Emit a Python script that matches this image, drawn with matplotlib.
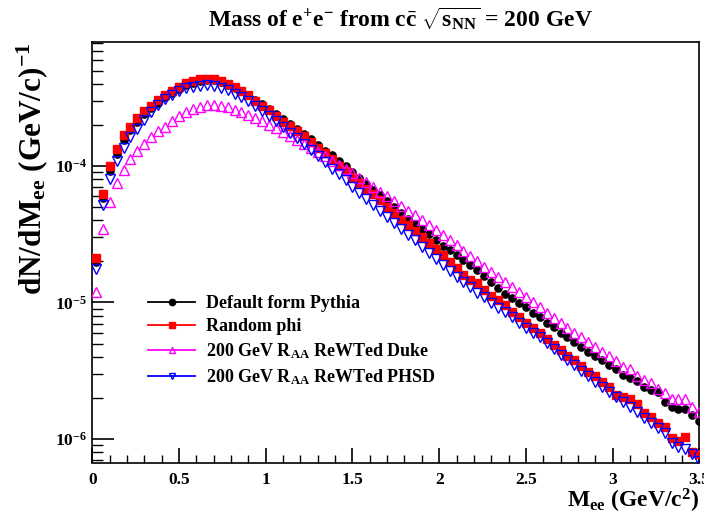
import math
import matplotlib
matplotlib.use('Agg')
import matplotlib.pyplot as plt
from matplotlib.ticker import MultipleLocator, FuncFormatter, LogLocator, NullFormatter
from matplotlib.lines import Line2D

plt.rcParams['font.family'] = ['Liberation Serif', 'DejaVu Serif']
plt.rcParams['font.weight'] = 'bold'
plt.rcParams['mathtext.fontset'] = 'custom'
plt.rcParams['mathtext.rm'] = 'Liberation Serif:bold'
plt.rcParams['mathtext.it'] = 'Liberation Serif:bold'
plt.rcParams['mathtext.bf'] = 'Liberation Serif:bold'
plt.rcParams['mathtext.sf'] = 'Liberation Serif:bold'

# bin centres (GeV/c^2)
mass = [0.02, 0.06, 0.10, 0.14, 0.18, 0.22, 0.26, 0.30, 0.34, 0.38,
        0.42, 0.46, 0.50, 0.54, 0.58, 0.62, 0.66, 0.70, 0.74, 0.78,
        0.82, 0.86, 0.90, 0.94, 0.98, 1.02, 1.06, 1.10, 1.14, 1.18,
        1.22, 1.26, 1.30, 1.34, 1.38, 1.42, 1.46, 1.50, 1.54, 1.58,
        1.62, 1.66, 1.70, 1.74, 1.78, 1.82, 1.86, 1.90, 1.94, 1.98,
        2.02, 2.06, 2.10, 2.14, 2.18, 2.22, 2.26, 2.30, 2.34, 2.38,
        2.42, 2.46, 2.50, 2.54, 2.58, 2.62, 2.66, 2.70, 2.74, 2.78,
        2.82, 2.86, 2.90, 2.94, 2.98, 3.02, 3.06, 3.10, 3.14, 3.18,
        3.22, 3.26, 3.30, 3.34, 3.38, 3.42, 3.46, 3.50]

default_pythia = [
    1.97e-5, 5.8e-5, 9.2e-5, 1.22e-4, 1.55e-4, 1.83e-4, 2.12e-4, 2.40e-4, 2.66e-4, 2.93e-4,
    3.20e-4, 3.45e-4, 3.70e-4, 3.92e-4, 4.10e-4, 4.22e-4, 4.27e-4, 4.25e-4, 4.13e-4, 3.97e-4,
    3.77e-4, 3.55e-4, 3.31e-4, 3.07e-4, 2.84e-4, 2.62e-4, 2.41e-4, 2.20e-4, 2.03e-4, 1.87e-4,
    1.73e-4, 1.57e-4, 1.44e-4, 1.30e-4, 1.20e-4, 1.09e-4, 9.95e-5, 9.04e-5, 8.22e-5, 7.43e-5,
    6.72e-5, 6.10e-5, 5.55e-5, 5.01e-5, 4.56e-5, 4.12e-5, 3.79e-5, 3.48e-5, 3.16e-5, 2.86e-5,
    2.60e-5, 2.41e-5, 2.22e-5, 2.06e-5, 1.88e-5, 1.72e-5, 1.57e-5, 1.42e-5, 1.27e-5, 1.16e-5,
    1.08e-5, 9.94e-6, 9.19e-6, 8.30e-6, 7.85e-6, 7.10e-6, 6.56e-6, 5.99e-6, 5.54e-6, 5.15e-6,
    4.73e-6, 4.35e-6, 4.04e-6, 3.78e-6, 3.48e-6, 3.23e-6, 2.94e-6, 2.78e-6, 2.67e-6, 2.41e-6,
    2.28e-6, 2.22e-6, 1.87e-6, 1.72e-6, 1.65e-6, 1.65e-6, 1.50e-6, 1.36e-6]

random_phi = [
    2.13e-5, 6.25e-5, 1.00e-4, 1.33e-4, 1.68e-4, 1.95e-4, 2.26e-4, 2.53e-4, 2.78e-4, 3.06e-4,
    3.33e-4, 3.58e-4, 3.83e-4, 4.05e-4, 4.24e-4, 4.34e-4, 4.38e-4, 4.34e-4, 4.19e-4, 4.00e-4,
    3.79e-4, 3.54e-4, 3.30e-4, 3.03e-4, 2.78e-4, 2.56e-4, 2.34e-4, 2.12e-4, 1.96e-4, 1.80e-4,
    1.65e-4, 1.50e-4, 1.37e-4, 1.24e-4, 1.12e-4, 1.01e-4, 9.20e-5, 8.30e-5, 7.50e-5, 6.80e-5,
    6.20e-5, 5.60e-5, 5.05e-5, 4.50e-5, 4.05e-5, 3.68e-5, 3.34e-5, 3.02e-5, 2.73e-5, 2.48e-5,
    2.22e-5, 1.98e-5, 1.80e-5, 1.60e-5, 1.46e-5, 1.38e-5, 1.24e-5, 1.11e-5, 1.05e-5, 9.55e-6,
    8.53e-6, 7.85e-6, 7.02e-6, 6.45e-6, 5.99e-6, 5.35e-6, 4.87e-6, 4.47e-6, 4.04e-6, 3.78e-6,
    3.42e-6, 3.10e-6, 2.89e-6, 2.62e-6, 2.41e-6, 2.09e-6, 2.04e-6, 1.95e-6, 1.80e-6, 1.54e-6,
    1.45e-6, 1.30e-6, 1.23e-6, 1.01e-6, 9.70e-7, 1.03e-6, 8.05e-7, 7.75e-7]

duke_rw = [
    1.20e-5, 3.48e-5, 5.50e-5, 7.50e-5, 9.30e-5, 1.12e-4, 1.30e-4, 1.46e-4, 1.63e-4, 1.80e-4,
    1.95e-4, 2.14e-4, 2.33e-4, 2.50e-4, 2.62e-4, 2.72e-4, 2.80e-4, 2.81e-4, 2.77e-4, 2.70e-4,
    2.60e-4, 2.50e-4, 2.39e-4, 2.26e-4, 2.13e-4, 2.01e-4, 1.90e-4, 1.77e-4, 1.67e-4, 1.56e-4,
    1.46e-4, 1.36e-4, 1.27e-4, 1.18e-4, 1.10e-4, 1.02e-4, 9.50e-5, 8.85e-5, 8.20e-5, 7.60e-5,
    7.05e-5, 6.50e-5, 6.00e-5, 5.55e-5, 5.12e-5, 4.72e-5, 4.35e-5, 4.00e-5, 3.70e-5, 3.40e-5,
    3.12e-5, 2.85e-5, 2.62e-5, 2.40e-5, 2.18e-5, 2.00e-5, 1.83e-5, 1.68e-5, 1.55e-5, 1.42e-5,
    1.30e-5, 1.19e-5, 1.09e-5, 1.00e-5, 9.20e-6, 8.40e-6, 7.70e-6, 7.10e-6, 6.50e-6, 6.00e-6,
    5.54e-6, 5.15e-6, 4.73e-6, 4.35e-6, 4.04e-6, 3.74e-6, 3.38e-6, 3.23e-6, 2.89e-6, 2.70e-6,
    2.55e-6, 2.30e-6, 2.15e-6, 1.97e-6, 1.96e-6, 1.96e-6, 1.72e-6, 1.56e-6]

phsd_rw = [
    1.77e-5, 5.15e-5, 8.10e-5, 1.10e-4, 1.36e-4, 1.63e-4, 1.88e-4, 2.17e-4, 2.50e-4, 2.80e-4,
    3.10e-4, 3.35e-4, 3.55e-4, 3.72e-4, 3.83e-4, 3.90e-4, 3.92e-4, 3.87e-4, 3.77e-4, 3.60e-4,
    3.40e-4, 3.20e-4, 2.99e-4, 2.77e-4, 2.54e-4, 2.33e-4, 2.13e-4, 1.93e-4, 1.76e-4, 1.60e-4,
    1.46e-4, 1.32e-4, 1.19e-4, 1.07e-4, 9.60e-5, 8.70e-5, 7.86e-5, 7.02e-5, 6.34e-5, 5.76e-5,
    5.15e-5, 4.69e-5, 4.23e-5, 3.83e-5, 3.48e-5, 3.11e-5, 2.86e-5, 2.55e-5, 2.30e-5, 2.08e-5,
    1.88e-5, 1.70e-5, 1.54e-5, 1.41e-5, 1.30e-5, 1.17e-5, 1.10e-5, 9.93e-6, 9.18e-6, 8.53e-6,
    7.85e-6, 7.10e-6, 6.45e-6, 5.93e-6, 5.54e-6, 5.01e-6, 4.53e-6, 4.11e-6, 3.78e-6, 3.48e-6,
    3.16e-6, 2.89e-6, 2.62e-6, 2.41e-6, 2.22e-6, 2.04e-6, 1.87e-6, 1.72e-6, 1.58e-6, 1.42e-6,
    1.31e-6, 1.20e-6, 1.10e-6, 9.30e-7, 8.77e-7, 8.40e-7, 7.75e-7, 6.90e-7]

labels = ["Default form Pythia", "Random phi",
          r"200 GeV R$_{\mathrm{AA}}$ ReWTed Duke",
          r"200 GeV R$_{\mathrm{AA}}$ ReWTed PHSD"]

W, H = 704, 517
fig = plt.figure(figsize=(W / 100, H / 100), dpi=100)
ax = fig.add_axes([92.3 / W, 1 - 462.5 / H, (699.3 - 92.3) / W, (462.5 - 42.3) / H])

ax.plot(mass, default_pythia, ls='none', marker='o', ms=5.2, mfc='black', mec='black', zorder=3)
ax.plot(mass, random_phi, ls='none', marker='s', ms=5.6, mfc='red', mec='red', zorder=4)
ax.plot(mass, duke_rw, ls='none', marker='^', ms=6.5, mfc='none', mec='#ff00ff', mew=1.0, zorder=5)
ax.plot(mass, phsd_rw, ls='none', marker='v', ms=6.5, mfc='none', mec='blue', mew=1.0, zorder=6)

ax.set_yscale('log')
ax.set_xlim(0, 3.5)
ax.set_ylim(6.7e-7, 8.1e-4)

ax.xaxis.set_major_locator(MultipleLocator(0.5))
ax.xaxis.set_minor_locator(MultipleLocator(0.1))
ax.xaxis.set_major_formatter(FuncFormatter(lambda v, p: '%g' % v))
ax.yaxis.set_major_locator(LogLocator(base=10, numticks=10))
ax.yaxis.set_minor_locator(LogLocator(base=10, subs=range(2, 10), numticks=20))
ax.yaxis.set_minor_formatter(NullFormatter())


def yfmt(v, p):
    e = int(round(math.log10(v)))
    return r'$\mathbf{10^{%d}}$' % e


ax.yaxis.set_major_formatter(FuncFormatter(yfmt))

ax.tick_params(axis='x', which='major', direction='in', length=11, width=1.2, labelsize=12.5, pad=7)
ax.tick_params(axis='x', which='minor', direction='in', length=5.5, width=1.0)
ax.tick_params(axis='y', which='major', direction='in', length=16, width=1.2, labelsize=12.5, pad=4)
ax.tick_params(axis='y', which='minor', direction='in', length=8, width=1.0)
ax.tick_params(top=False, right=False, which='both')
for s in ax.spines.values():
    s.set_linewidth(1.2)

ax.set_xlabel(r"M$_{\mathrm{ee}}$ (GeV/c$^{2}$)", fontsize=17, fontweight='bold', loc='right')
ax.xaxis.set_label_coords(1.0, -0.058)
ax.set_ylabel(r"dN/dM$_{\mathrm{ee}}$ (GeV/c)$^{\mathrm{-1}}$", fontsize=22.5, fontweight='bold', loc='top')
ax.yaxis.set_label_coords(-0.07, 1.0)

fig.text(400 / W, 1 - 19 / H, r"Mass of e$^{+}$e$^{-}$ from c$\bar{\mathrm{c}}$ $\sqrt{\mathrm{s_{NN}}}$ = 200 GeV",
         ha='center', va='center', fontsize=17, fontweight='bold')

handles = [
    Line2D([0], [0], color='black', lw=1.3, marker='o', ms=4.5, mfc='black', mec='black'),
    Line2D([0], [0], color='red', lw=1.3, marker='s', ms=5, mfc='red', mec='red'),
    Line2D([0], [0], color='#ff00ff', lw=1.3, marker='^', ms=5, mfc='none', mec='#ff00ff'),
    Line2D([0], [0], color='blue', lw=1.3, marker='v', ms=5, mfc='none', mec='blue'),
]
leg = ax.legend(handles, labels, loc='upper left', bbox_to_anchor=(0.08, 0.415),
                frameon=False, fontsize=13, handlelength=2.6, handletextpad=0.6,
                labelspacing=0.34, borderaxespad=0)
for t in leg.get_texts():
    t.set_fontweight('bold')

fig.savefig('out.png', dpi=100)
